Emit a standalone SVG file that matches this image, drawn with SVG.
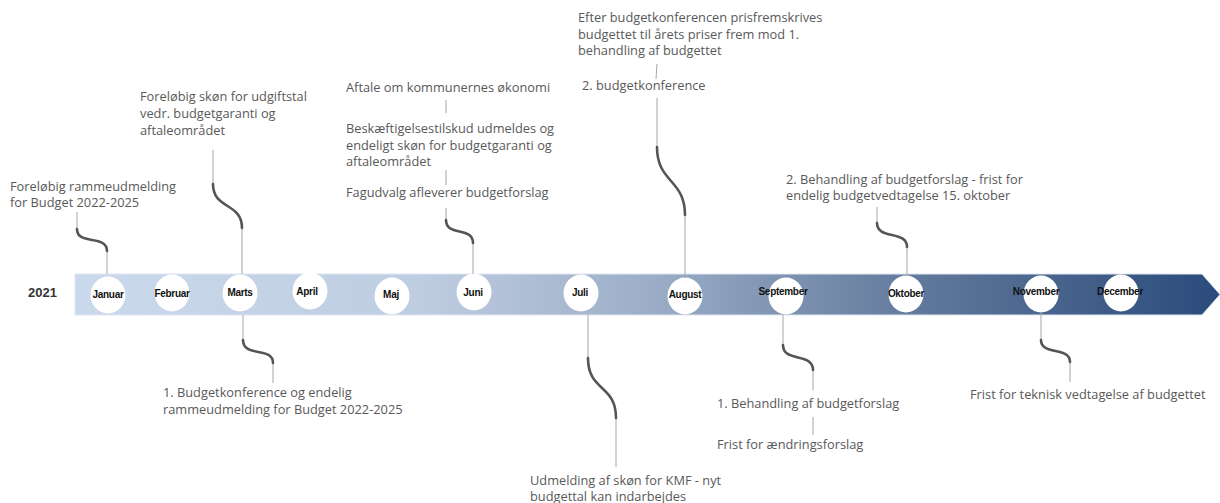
<svg xmlns="http://www.w3.org/2000/svg" width="1220" height="503" viewBox="0 0 1220 503">
<defs>
<linearGradient id="band" x1="0" y1="0" x2="1" y2="0">
<stop offset="0" stop-color="#cbd9ec"/>
<stop offset="0.3" stop-color="#bfcde2"/>
<stop offset="0.5" stop-color="#9caec8"/>
<stop offset="0.75" stop-color="#5e7699"/>
<stop offset="1" stop-color="#2a4b7c"/>
</linearGradient>
<style>
.t{font-family:"Open Sans","DejaVu Sans",sans-serif;font-size:12.8px;fill:#595959}
.m{font-family:"Liberation Sans",Arial,sans-serif;font-size:10px;font-weight:bold;fill:#111;text-anchor:middle;letter-spacing:-0.3px}
.y{font-family:"Liberation Sans",Arial,sans-serif;font-size:13px;font-weight:bold;fill:#333}
.thin{fill:none;stroke:#a6a6a6;stroke-width:1}
.curve{fill:none;stroke:#555;stroke-width:2.6;stroke-linecap:round}
.c{fill:#fff}
</style>
</defs>
<rect width="1220" height="503" fill="#fff"/>
<g id="band-arrow">
<polygon points="75,274 1202,274 1220,294.5 1202,315 75,315" fill="url(#band)" stroke="#dfe7f2" stroke-width="1"/>
<text class="y" x="28" y="297">2021</text>
</g>
<g id="months">
<g id="m-jan"><ellipse class="c" cx="108" cy="295" rx="17.5" ry="18.5"/><text class="m" x="108" y="298">Januar</text></g>
<g id="m-feb"><ellipse class="c" cx="172" cy="293" rx="17.5" ry="18.5"/><text class="m" x="172" y="297">Februar</text></g>
<g id="m-mar"><ellipse class="c" cx="240" cy="293" rx="17.5" ry="18.5"/><text class="m" x="240" y="296">Marts</text></g>
<g id="m-apr"><ellipse class="c" cx="310" cy="291" rx="17.5" ry="18.5"/><text class="m" x="307" y="295">April</text></g>
<g id="m-maj"><ellipse class="c" cx="392" cy="296" rx="17.5" ry="18.5"/><text class="m" x="391" y="298">Maj</text></g>
<g id="m-jun"><ellipse class="c" cx="474" cy="292" rx="17.5" ry="18.5"/><text class="m" x="473" y="296">Juni</text></g>
<g id="m-jul"><ellipse class="c" cx="581" cy="293" rx="17.5" ry="18.5"/><text class="m" x="580" y="296">Juli</text></g>
<g id="m-aug"><ellipse class="c" cx="685" cy="296" rx="17.5" ry="18.5"/><text class="m" x="685" y="298">August</text></g>
<g id="m-sep"><ellipse class="c" cx="786" cy="296" rx="17.5" ry="18.5"/><text class="m" x="783" y="295">September</text></g>
<g id="m-okt"><ellipse class="c" cx="906" cy="294" rx="17.5" ry="18.5"/><text class="m" x="906" y="297">Oktober</text></g>
<g id="m-nov"><ellipse class="c" cx="1041" cy="294" rx="17.5" ry="18.5"/><text class="m" x="1036" y="295">November</text></g>
<g id="m-dec"><ellipse class="c" cx="1121" cy="293" rx="17.5" ry="18.5"/><text class="m" x="1120" y="295">December</text></g>
</g>
<g id="connectors">
<path class="thin" d="M77,212 V229 M107,251 V274"/>
<path class="curve" d="M77,229 C77,246 107,234 107,251"/>
<path class="thin" d="M213,150 V184 M242,228 V274"/>
<path class="curve" d="M213,184 C213,210 242,202 242,228"/>
<path class="thin" d="M243,315 V340 M273,363 V383"/>
<path class="curve" d="M243,340 C243,358 273,346 273,363"/>
<path class="thin" d="M446,100 V113 M446,170 V185 M446,208 V220 M473,243 V274"/>
<path class="curve" d="M446,220 C446,237 473,226 473,243"/>
<path class="thin" d="M588,315 V358 M616,418 V467"/>
<path class="curve" d="M588,358 C588,392 616,384 616,418"/>
<path class="thin" d="M657,64 L656,79 M657,98 V147 M685,215 V278"/>
<path class="curve" d="M657,147 C657,183 685,179 685,215"/>
<path class="thin" d="M877,207 V223 M907,247 V274"/>
<path class="curve" d="M877,223 C877,240 907,230 907,247"/>
<path class="thin" d="M783,315 V345 M813,370 V390 M813,417 V435"/>
<path class="curve" d="M783,345 C783,363 813,352 813,370"/>
<path class="thin" d="M1041,312 V340 M1070,362 V382"/>
<path class="curve" d="M1041,340 C1041,356 1070,346 1070,362"/>
</g>
<g id="n-jan-top"><text class="t" x="10" y="191">Foreløbig rammeudmelding</text><text class="t" x="10" y="207">for Budget 2022-2025</text></g>
<g id="n-mar-top"><text class="t" x="140" y="101">Foreløbig skøn for udgiftstal</text><text class="t" x="140" y="118">vedr. budgetgaranti og</text><text class="t" x="140" y="135">aftaleområdet</text></g>
<g id="n-mar-bot"><text class="t" x="163" y="397">1. Budgetkonference og endelig</text><text class="t" x="163" y="414">rammeudmelding for Budget 2022-2025</text></g>
<g id="n-jun-1"><text class="t" x="346" y="92">Aftale om kommunernes økonomi</text></g>
<g id="n-jun-2"><text class="t" x="346" y="133">Beskæftigelsestilskud udmeldes og</text><text class="t" x="346" y="150">endeligt skøn for budgetgaranti og</text><text class="t" x="346" y="166">aftaleområdet</text></g>
<g id="n-jun-3"><text class="t" x="346" y="197">Fagudvalg afleverer budgetforslag</text></g>
<g id="n-jul-bot"><text class="t" x="530" y="485">Udmelding af skøn for KMF - nyt</text><text class="t" x="530" y="501">budgettal kan indarbejdes</text></g>
<g id="n-aug-1"><text class="t" x="578" y="22">Efter budgetkonferencen prisfremskrives</text><text class="t" x="578" y="39">budgettet til årets priser frem mod 1.</text><text class="t" x="578" y="55">behandling af budgettet</text></g>
<g id="n-aug-2"><text class="t" x="582" y="90">2. budgetkonference</text></g>
<g id="n-okt-top"><text class="t" x="786" y="184">2. Behandling af budgetforslag - frist for</text><text class="t" x="786" y="200">endelig budgetvedtagelse 15. oktober</text></g>
<g id="n-sep-1"><text class="t" x="717" y="408">1. Behandling af budgetforslag</text></g>
<g id="n-sep-2"><text class="t" x="717" y="449">Frist for ændringsforslag</text></g>
<g id="n-nov-bot"><text class="t" x="970" y="399">Frist for teknisk vedtagelse af budgettet</text></g>
</svg>
